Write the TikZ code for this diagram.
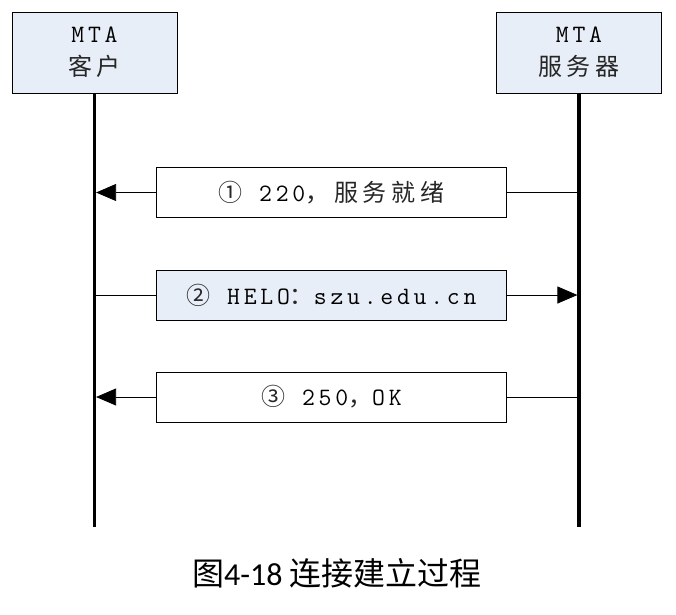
\documentclass[tikz,border=0pt]{standalone}
\usepackage{fontspec}
\newfontfamily\cjkraw[LetterSpace=20]{Noto Sans CJK SC}
\newcommand{\cjk}{\cjkraw\color{black!85}}
\newfontfamily\cjkcap{Noto Sans CJK SC}
\newfontfamily\capfont{Carlito}
\setmonofont{Latin Modern Mono}[LetterSpace=15]
\usetikzlibrary{arrows.meta}
\definecolor{boxblue}{HTML}{E8EEF8}
\begin{document}
\begin{tikzpicture}[x=1pt,y=-1pt,
  actor/.style={draw, fill=boxblue, minimum width=165pt, minimum height=81pt, inner sep=0pt, align=center, font=\fontsize{24}{33}\selectfont, line width=0.8pt},
  msg/.style={draw, minimum width=350pt, minimum height=50pt, inner sep=0pt, font=\fontsize{24}{30}\selectfont, line width=0.8pt},
  life/.style={line width=3.5pt},
  conn/.style={line width=0.8pt},
  arr/.style={conn, -{Triangle[length=20pt,width=17pt]}, shorten >=1.6pt}]
\useasboundingbox (0,0) rectangle (676,614);
\node[actor] (c) at (94.5,52.5) {{\ttfamily\fontsize{25}{33}\selectfont MTA}\\{\cjk 客户}};
\node[actor] (s) at (579,52.5) {{\ttfamily\fontsize{25}{33}\selectfont MTA}\\{\cjk 服务器}};
\coordinate (cE) at (94.5,527);
\coordinate (sE) at (579,527);
\draw[life] (c.south) -- (cE);
\draw[life] (s.south) -- (sE);
\node[msg] (m1) at (331.5,192.5) {{\cjk ①}{\ttfamily\fontsize{25}{30}\selectfont\ 220}{\cjk ，服务就绪}};
\node[msg, fill=boxblue] (m2) at (331.5,295) {{\cjk ②}{\ttfamily\fontsize{25}{30}\selectfont\ HELO}{\cjk ：}{\ttfamily\fontsize{25}{30}\selectfont szu.edu.cn}};
\node[msg] (m3) at (331.5,397) {{\cjk ③}{\ttfamily\fontsize{25}{30}\selectfont\ 250}{\cjk ，}{\ttfamily\fontsize{25}{30}\selectfont OK}};
\draw[arr] (m1.west) -- (m1.west -| c.south);
\draw[conn] (m1.east) -- (m1.east -| s.south);
\draw[conn] (m2.west -| c.south) -- (m2.west);
\draw[arr] (m2.east) -- (m2.east -| s.south);
\draw[arr] (m3.west) -- (m3.west -| c.south);
\draw[conn] (m3.east) -- (m3.east -| s.south);
\node (cap) at (337,573) {\fontsize{32}{36}\selectfont\cjkcap 图\capfont 4-18 \cjkcap 连接建立过程};
\end{tikzpicture}
\end{document}
